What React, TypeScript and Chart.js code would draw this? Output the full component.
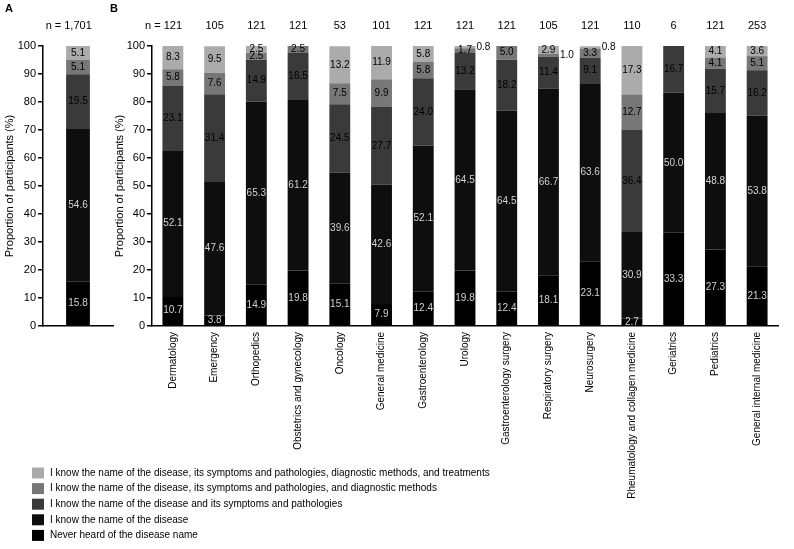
import React, { useEffect, useRef } from 'react';
import { Chart, registerables } from 'chart.js';

Chart.register(...registerables);

const FONT = '"Liberation Sans", Arial, Helvetica, sans-serif';

// Knowledge levels, bottom of the stack first
const levels = [
  'Never heard of the disease name',
  'I know the name of the disease',
  'I know the name of the disease and its symptoms and pathologies',
  'I know the name of the disease, its symptoms and pathologies, and diagnostic methods',
  'I know the name of the disease, its symptoms and pathologies, diagnostic methods, and treatments',
];
const levelColors = ['#000000', '#0e0e0e', '#3a3a3a', '#777777', '#ababab'];

// Panel A: all participants
const overallLabels = ['All'];
const overallN = ['1,701'];
const overallNever = [15.8];
const overallName = [54.6];
const overallSymptoms = [19.5];
const overallDiagnostic = [5.1];
const overallTreatment = [5.1];

// Panel B: by department
const departments = [
  'Dermatology',
  'Emergency',
  'Orthopedics',
  'Obstetrics and gynecology',
  'Oncology',
  'General medicine',
  'Gastroenterology',
  'Urology',
  'Gastroenterology surgery',
  'Respiratory surgery',
  'Neurosurgery',
  'Rheumatology and collagen medicine',
  'Geriatrics',
  'Pediatrics',
  'General internal medicine',
];
const deptN = ['121', '105', '121', '121', '53', '101', '121', '121', '121', '105', '121', '110', '6', '121', '253'];
const deptNever = [10.7, 3.8, 14.9, 19.8, 15.1, 7.9, 12.4, 19.8, 12.4, 18.1, 23.1, 2.7, 33.3, 27.3, 21.3];
const deptName = [52.1, 47.6, 65.3, 61.2, 39.6, 42.6, 52.1, 64.5, 64.5, 66.7, 63.6, 30.9, 50.0, 48.8, 53.8];
const deptSymptoms = [23.1, 31.4, 14.9, 16.5, 24.5, 27.7, 24.0, 13.2, 18.2, 11.4, 9.1, 36.4, 16.7, 15.7, 16.2];
const deptDiagnostic = [5.8, 7.6, 2.5, 2.5, 7.5, 9.9, 5.8, 1.7, 5.0, 1.0, 3.3, 12.7, 0, 4.1, 5.1];
const deptTreatment = [8.3, 9.5, 2.5, 0, 13.2, 11.9, 5.8, 0.8, 0, 2.9, 0.8, 17.3, 0, 4.1, 3.6];

const yTicks = [0, 10, 20, 30, 40, 50, 60, 70, 80, 90, 100];

function buildDatasets(series: number[][], barPercentage: number) {
  return series.map((data, i) => ({
    label: levels[i],
    data,
    backgroundColor: levelColors[i],
    borderWidth: 0,
    barPercentage,
    categoryPercentage: 1,
  }));
}

// Value printed in the middle of each segment; very thin segments get the label beside the bar
const segmentLabels = {
  id: 'segmentLabels',
  afterDatasetsDraw(chart: any) {
    const ctx = chart.ctx;
    ctx.save();
    ctx.font = `10px ${FONT}`;
    ctx.textBaseline = 'middle';
    chart.data.datasets.forEach((ds: any, di: number) => {
      const meta = chart.getDatasetMeta(di);
      meta.data.forEach((el: any, i: number) => {
        const v = ds.data[i];
        if (!v) return;
        const { x, y, base, width } = el.getProps(['x', 'y', 'base', 'width'], true);
        const cy = (y + base) / 2;
        const text = v.toFixed(1);
        if (v < 1.5) {
          ctx.textAlign = 'left';
          ctx.fillStyle = '#000';
          ctx.fillText(text, x + width / 2 + 1, cy);
        } else {
          ctx.textAlign = 'center';
          ctx.fillStyle = di < 2 ? '#d2d2d2' : '#000';
          ctx.fillText(text, x, cy);
        }
      });
    });
    ctx.restore();
  },
};

// Panel letter and the sample sizes above the bars
const panelHeader = {
  id: 'panelHeader',
  afterDraw(chart: any, _args: any, opts: any) {
    if (!opts || !opts.sizes) return;
    const ctx = chart.ctx;
    ctx.save();
    ctx.fillStyle = '#000';
    ctx.textBaseline = 'middle';
    ctx.font = `bold 11px ${FONT}`;
    ctx.textAlign = 'left';
    ctx.fillText(opts.tag, opts.tagX, 9);
    ctx.font = `11px ${FONT}`;
    const meta = chart.getDatasetMeta(0);
    opts.sizes.forEach((n: string, i: number) => {
      const x = meta.data[i].x;
      ctx.textAlign = 'center';
      ctx.fillText(n, x, 26);
      if (i === 0) {
        const w = ctx.measureText(n).width;
        ctx.textAlign = 'right';
        ctx.fillText('n =', x - w / 2 - 3, 26);
      }
    });
    ctx.restore();
  },
};

// Vertical key below the department axis
const keyBlock = {
  id: 'keyBlock',
  afterDraw(chart: any, _args: any, opts: any) {
    if (!opts || !opts.show) return;
    const ctx = chart.ctx;
    ctx.save();
    ctx.font = `10px ${FONT}`;
    ctx.textBaseline = 'middle';
    ctx.textAlign = 'left';
    const items = chart.data.datasets.map((d: any) => ({ label: d.label, color: d.backgroundColor })).reverse();
    items.forEach((it: any, k: number) => {
      const cy = opts.top + k * opts.gap;
      ctx.fillStyle = it.color;
      ctx.fillRect(opts.left, cy - 5.5, 12, 11);
      ctx.fillStyle = '#000';
      ctx.fillText(it.label, opts.left + 18, cy);
    });
    ctx.restore();
  },
};

function yScale(width: number) {
  return {
    stacked: true,
    min: 0,
    max: 100,
    afterFit: (s: any) => {
      s.width = width;
    },
    afterBuildTicks: (s: any) => {
      s.ticks = yTicks.map((v) => ({ value: v }));
    },
    ticks: { color: '#000', font: { size: 11, family: FONT }, padding: 2 },
    grid: { drawOnChartArea: false, drawTicks: true, tickLength: 5, color: '#000', lineWidth: 1.5 },
    border: { display: true, color: '#000', width: 1.5 },
    title: {
      display: true,
      text: 'Proportion of participants (%)',
      color: '#000',
      font: { size: 11, family: FONT },
      padding: { top: 3, bottom: 0 },
    },
  };
}

export default function App() {
  const refA = useRef<HTMLCanvasElement | null>(null);
  const refB = useRef<HTMLCanvasElement | null>(null);

  useEffect(() => {
    Chart.defaults.font.family = FONT;
    Chart.defaults.color = '#000';

    const chartB = new Chart(refB.current as HTMLCanvasElement, {
      type: 'bar',
      data: {
        labels: departments,
        datasets: buildDatasets([deptNever, deptName, deptSymptoms, deptDiagnostic, deptTreatment], 0.5),
      },
      plugins: [segmentLabels, panelHeader, keyBlock],
      options: {
        responsive: false,
        animation: false,
        layout: { padding: { left: 110, right: 16, top: 46, bottom: 0 } },
        plugins: {
          legend: { display: false },
          tooltip: { enabled: false },
          panelHeader: { tag: 'B', tagX: 110, sizes: deptN },
          keyBlock: { show: true, left: 32, top: 473, gap: 15.6 },
        } as any,
        scales: {
          x: {
            stacked: true,
            afterFit: (s: any) => {
              s.height = 223;
            },
            ticks: {
              autoSkip: false,
              minRotation: 90,
              maxRotation: 90,
              padding: 6,
              color: '#000',
              font: { size: 10, family: FONT },
            },
            grid: { drawOnChartArea: false, drawTicks: false },
            border: { display: true, color: '#000', width: 1.5 },
          },
          y: yScale(42) as any,
        },
      },
    });

    const chartA = new Chart(refA.current as HTMLCanvasElement, {
      type: 'bar',
      data: {
        labels: overallLabels,
        datasets: buildDatasets(
          [overallNever, overallName, overallSymptoms, overallDiagnostic, overallTreatment],
          0.34
        ),
      },
      plugins: [segmentLabels, panelHeader],
      options: {
        responsive: false,
        animation: false,
        layout: { padding: { left: 0, right: 12, top: 46, bottom: 0 } },
        plugins: {
          legend: { display: false },
          tooltip: { enabled: false },
          panelHeader: { tag: 'A', tagX: 5, sizes: overallN },
        } as any,
        scales: {
          x: {
            stacked: true,
            afterFit: (s: any) => {
              s.height = 223;
            },
            ticks: { display: false },
            grid: { drawOnChartArea: false, drawTicks: false },
            border: { display: true, color: '#000', width: 1.5 },
          },
          y: yScale(43) as any,
        },
      },
    });

    return () => {
      chartA.destroy();
      chartB.destroy();
    };
  }, []);

  return (
    <div style={{ position: 'fixed', left: 0, top: 0, width: 794, height: 549, background: '#fff' }}>
      <canvas ref={refB} width={794} height={549} style={{ position: 'absolute', left: 0, top: 0, width: 794, height: 549 }} />
      <canvas ref={refA} width={125} height={549} style={{ position: 'absolute', left: 0, top: 0, width: 125, height: 549 }} />
    </div>
  );
}
